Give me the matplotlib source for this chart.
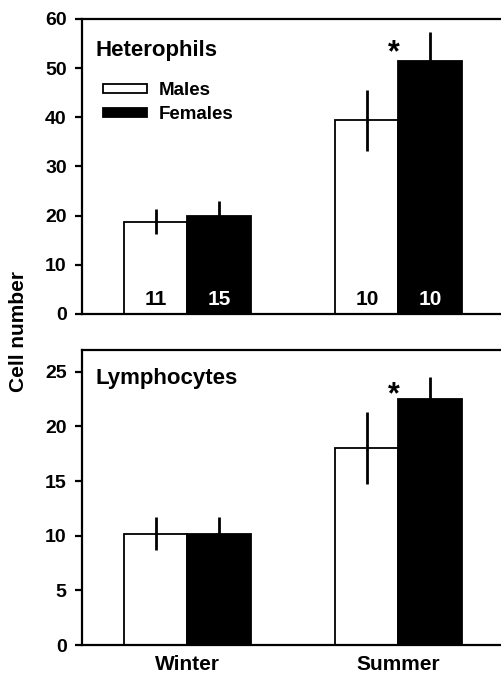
import matplotlib
matplotlib.use("Agg")
import matplotlib.pyplot as plt
from matplotlib.patches import Patch
import numpy as np

plt.rcParams['font.family'] = ['Liberation Sans', 'DejaVu Sans']
plt.rcParams['font.weight'] = 'bold'

seasons = ["Winter", "Summer"]
sexes = ["Males", "Females"]

# Heterophils: means and SE
het_males = [18.8, 39.4]
het_males_se = [2.5, 6.2]
het_females = [20.0, 51.4]
het_females_se = [2.9, 5.9]
het_n_males = [11, 10]
het_n_females = [15, 10]

# Lymphocytes
lym_males = [10.2, 18.0]
lym_males_se = [1.55, 3.3]
lym_females = [10.2, 22.5]
lym_females_se = [1.5, 2.0]

dpi = 100
fig = plt.figure(figsize=(502/dpi, 675/dpi), dpi=dpi)
ax1 = fig.add_axes([82/502, 1-314/675, 422/502, 295/675])
ax2 = fig.add_axes([82/502, 1-645/675, 422/502, 295/675])

x = np.arange(len(seasons))
w = 0.3


def draw_panel(ax, m, mse, f, fse, ymax, yticks, title, title_y, star_y):
    ax.bar(x - w/2, m, w, color="white", edgecolor="black", linewidth=1.3, zorder=2)
    ax.bar(x + w/2, f, w, color="black", edgecolor="black", linewidth=1.3, zorder=2)
    ax.errorbar(x - w/2, m, yerr=mse, fmt="none", ecolor="black", elinewidth=2, capsize=0, zorder=3)
    ax.errorbar(x + w/2, f, yerr=fse, fmt="none", ecolor="black", elinewidth=2, capsize=0, zorder=1)
    ax.set_xlim(-0.5, 1.5)
    ax.set_ylim(0, ymax)
    ax.set_yticks(yticks)
    ax.spines['right'].set_visible(False)
    for s in ['left', 'top', 'bottom']:
        ax.spines[s].set_linewidth(1.6)
    ax.tick_params(axis='y', direction='out', length=5, width=1.6, labelsize=14, pad=6)
    ax.tick_params(axis='x', length=0, labelsize=15, pad=7)
    ax.text(0.031, title_y, title, transform=ax.transAxes,
            fontsize=16, fontweight='bold', va='baseline', ha='left')
    ax.text(x[1] - 0.024, star_y, "*", fontsize=22, fontweight='bold', ha='center', va='center')


draw_panel(ax1, het_males, het_males_se, het_females, het_females_se,
           60, [0, 10, 20, 30, 40, 50, 60], "Heterophils", 52.4/60, 53.0)
draw_panel(ax2, lym_males, lym_males_se, lym_females, lym_females_se,
           27, [0, 5, 10, 15, 20, 25], "Lymphocytes", 23.9/27, 22.9)

ax1.set_xticks(x)
ax1.set_xticklabels([])
ax2.set_xticks(x)
ax2.set_xticklabels(seasons, fontsize=15, fontweight='bold')

# sample sizes inside bars
for i in range(len(seasons)):
    ax1.text(x[i] - w/2, 3.0, str(het_n_males[i]), ha='center', va='center',
             fontsize=15, fontweight='bold', color='black')
    ax1.text(x[i] + w/2, 3.0, str(het_n_females[i]), ha='center', va='center',
             fontsize=15, fontweight='bold', color='white')

handles = [Patch(facecolor='white', edgecolor='black', linewidth=1.3),
           Patch(facecolor='black', edgecolor='black', linewidth=1.3)]
ax1.legend(handles, sexes, loc='upper left', bbox_to_anchor=(0.05, 0.785),
           frameon=False, handlelength=2.35, handleheight=0.37,
           handletextpad=0.64, labelspacing=0.35, borderpad=0, borderaxespad=0,
           prop={'weight': 'bold', 'size': 13.5})

fig.text(19/502, 1-332/675, "Cell number", rotation=90, ha='center', va='center',
         fontsize=15, fontweight='bold')

fig.savefig("out.png", dpi=dpi)
